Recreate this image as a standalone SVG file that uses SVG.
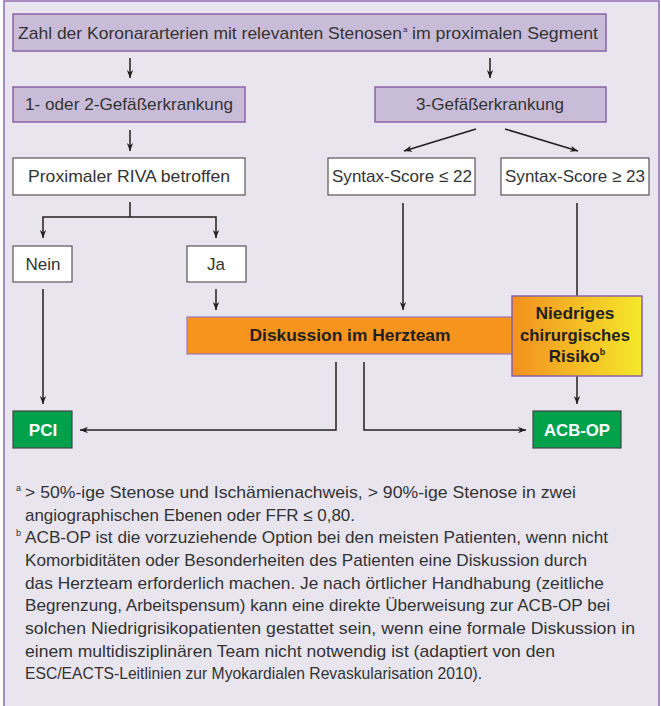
<svg xmlns="http://www.w3.org/2000/svg" width="661" height="706" viewBox="0 0 661 706">
<style>
.t{font-family:"Liberation Sans",Arial,sans-serif;font-size:17px;fill:#333;}
.b{font-family:"Liberation Sans",Arial,sans-serif;font-size:17px;font-weight:bold;fill:#231f20;}
.w{font-family:"Liberation Sans",Arial,sans-serif;font-size:17px;font-weight:bold;fill:#fff;}
.f{font-family:"Liberation Sans",Arial,sans-serif;font-size:17px;fill:#333;}
.s{font-family:"Liberation Sans",Arial,sans-serif;font-size:9px;fill:#333;}
.pur{fill:#c9bcd9;stroke:#8a62a6;stroke-width:1.5;}
.wht{fill:#fff;stroke:#555;stroke-width:1.2;}
.grn{fill:#00a14b;stroke:#444;stroke-width:1.2;}
.c{fill:none;stroke:#231f20;stroke-width:1.5;}
</style>
<defs>
<marker id="ah" viewBox="0 0 10 10" refX="10" refY="5" markerWidth="8" markerHeight="8" orient="auto" markerUnits="userSpaceOnUse">
<path d="M0,1 L10,5 L0,9 L3,5 z" fill="#231f20"/>
</marker>
<linearGradient id="gr" x1="0" y1="0" x2="1" y2="0">
<stop offset="0" stop-color="#f39020"/>
<stop offset="1" stop-color="#f5e82a"/>
</linearGradient>
</defs>
<rect x="4" y="1" width="655" height="720" fill="#e8e5ef" stroke="#8d6aae" stroke-width="1.5"/>

<g id="connectors">
<path class="c" d="M130,58 V78" marker-end="url(#ah)"/>
<path class="c" d="M490,58 V78" marker-end="url(#ah)"/>
<path class="c" d="M130,130 V151" marker-end="url(#ah)"/>
<path class="c" d="M476,129 L404,151" marker-end="url(#ah)"/>
<path class="c" d="M505,129 L578,151" marker-end="url(#ah)"/>
<path class="c" d="M130,202 V217"/>
<path class="c" d="M130,217 H43 V238" marker-end="url(#ah)"/>
<path class="c" d="M130,217 H216 V238" marker-end="url(#ah)"/>
<path class="c" d="M43,289 V404" marker-end="url(#ah)"/>
<path class="c" d="M216,289 V310" marker-end="url(#ah)"/>
<path class="c" d="M403,203 V310" marker-end="url(#ah)"/>
<path class="c" d="M577,203 V296"/>
<path class="c" d="M577,376 V404" marker-end="url(#ah)"/>
<path class="c" d="M336,362 V430 H80" marker-end="url(#ah)"/>
<path class="c" d="M364,362 V430 H526" marker-end="url(#ah)"/>
</g>

<g id="n-top">
<rect class="pur" x="13" y="14" width="593" height="37"/>
<text class="t" x="18" y="39" textLength="384" lengthAdjust="spacingAndGlyphs">Zahl der Koronararterien mit relevanten Stenosen</text>
<text class="s" x="403" y="32" style="font-size:8px">a</text>
<text class="t" x="412" y="39" textLength="186" lengthAdjust="spacingAndGlyphs">im proximalen Segment</text>
</g>

<g id="n-12">
<rect class="pur" x="13" y="87" width="232" height="35"/>
<text class="t" x="129" y="110" text-anchor="middle" textLength="208" lengthAdjust="spacingAndGlyphs">1- oder 2-Gefäßerkrankung</text>
</g>

<g id="n-3">
<rect class="pur" x="375" y="87" width="231" height="35"/>
<text class="t" x="490" y="110" text-anchor="middle" textLength="148" lengthAdjust="spacingAndGlyphs">3-Gefäßerkrankung</text>
</g>

<g id="n-riva">
<rect class="wht" x="13" y="158" width="232" height="37"/>
<text class="t" x="129" y="182" text-anchor="middle" textLength="202" lengthAdjust="spacingAndGlyphs">Proximaler RIVA betroffen</text>
</g>

<g id="n-s22">
<rect class="wht" x="328" y="158" width="147" height="37"/>
<text class="t" x="402" y="182" text-anchor="middle" textLength="140" lengthAdjust="spacingAndGlyphs">Syntax-Score ≤ 22</text>
</g>

<g id="n-s23">
<rect class="wht" x="501" y="158" width="148" height="37"/>
<text class="t" x="575" y="182" text-anchor="middle" textLength="140" lengthAdjust="spacingAndGlyphs">Syntax-Score ≥ 23</text>
</g>

<g id="n-nein">
<rect class="wht" x="13" y="246" width="59" height="36"/>
<text class="t" x="43" y="270" text-anchor="middle" textLength="35" lengthAdjust="spacingAndGlyphs">Nein</text>
</g>

<g id="n-ja">
<rect class="wht" x="187" y="246" width="59" height="36"/>
<text class="t" x="216" y="270" text-anchor="middle">Ja</text>
</g>

<g id="n-herzteam">
<rect x="187" y="317" width="330" height="37" fill="#f7941d" stroke="#9a78b8" stroke-width="1.2"/>
<text class="b" x="350" y="341" text-anchor="middle" textLength="201" lengthAdjust="spacingAndGlyphs">Diskussion im Herzteam</text>
</g>

<g id="n-risiko">
<rect x="512" y="296" width="130" height="80" fill="url(#gr)" stroke="#8a62a6" stroke-width="1.5"/>
<text class="b" x="575" y="319" text-anchor="middle" textLength="79" lengthAdjust="spacingAndGlyphs">Niedriges</text>
<text class="b" x="575" y="341" text-anchor="middle" textLength="110" lengthAdjust="spacingAndGlyphs">chirurgisches</text>
<text class="b" x="577" y="362" text-anchor="middle">Risiko<tspan dy="-7" style="font-size:9px">b</tspan></text>
</g>

<g id="n-pci">
<rect class="grn" x="13" y="411" width="59" height="37"/>
<text class="w" x="43" y="436" text-anchor="middle">PCI</text>
</g>

<g id="n-acb">
<rect class="grn" x="533" y="411" width="88" height="37"/>
<text class="w" x="577" y="436" text-anchor="middle" textLength="66" lengthAdjust="spacingAndGlyphs">ACB-OP</text>
</g>

<g id="footnotes">
<text class="s" x="16" y="491">a</text>
<text class="f" x="25" y="498" textLength="551" lengthAdjust="spacingAndGlyphs">&gt; 50%-ige Stenose und Ischämienachweis, &gt; 90%-ige Stenose in zwei</text>
<text class="f" x="25" y="521" textLength="330" lengthAdjust="spacingAndGlyphs">angiographischen Ebenen oder FFR ≤ 0,80.</text>
<text class="s" x="16" y="536">b</text>
<text class="f" x="25" y="543" textLength="583" lengthAdjust="spacingAndGlyphs">ACB-OP ist die vorzuziehende Option bei den meisten Patienten, wenn nicht</text>
<text class="f" x="25" y="566" textLength="562" lengthAdjust="spacingAndGlyphs">Komorbiditäten oder Besonderheiten des Patienten eine Diskussion durch</text>
<text class="f" x="25" y="589" textLength="579" lengthAdjust="spacingAndGlyphs">das Herzteam erforderlich machen. Je nach örtlicher Handhabung (zeitliche</text>
<text class="f" x="25" y="611" textLength="585" lengthAdjust="spacingAndGlyphs">Begrenzung, Arbeitspensum) kann eine direkte Überweisung zur ACB-OP bei</text>
<text class="f" x="25" y="634" textLength="610" lengthAdjust="spacingAndGlyphs">solchen Niedrigrisikopatienten gestattet sein, wenn eine formale Diskussion in</text>
<text class="f" x="25" y="657" textLength="530" lengthAdjust="spacingAndGlyphs">einem multidisziplinären Team nicht notwendig ist (adaptiert von den</text>
<text class="f" x="25" y="679" textLength="457" lengthAdjust="spacingAndGlyphs">ESC/EACTS-Leitlinien zur Myokardialen Revaskularisation 2010).</text>
</g>
</svg>
